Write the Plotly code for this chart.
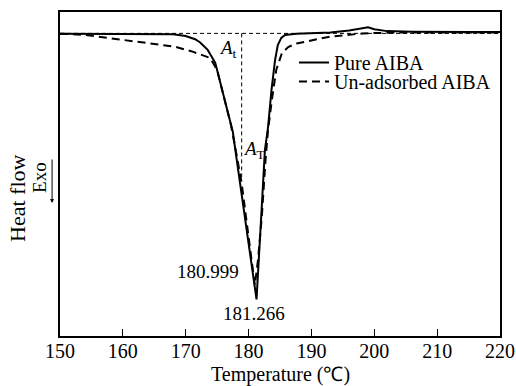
import plotly.graph_objects as go

# Pure AIBA (solid)
pure_T = [150, 155, 160, 165, 168, 170, 171.5, 172.3, 173.5, 174.7, 175.9, 176.7, 177.5, 177.9,
          178.5, 179.5, 180.5, 181.266, 182.0, 182.6, 183.1, 183.65, 184.2, 184.65, 185.2,
          185.8, 187.6, 190, 193, 196, 198, 199, 200, 202, 206, 210, 215, 220]
pure_hf = [93.3, 93.3, 93.3, 93.2, 93.1, 92.6, 91.6, 90.6, 88.3, 84.3, 75.0, 68.8, 63.0, 57.4,
           49.1, 35.8, 22.8, 11.3, 36.4, 57.4, 64.5, 76.0, 85.0, 89.8, 92.0,
           92.9, 93.3, 93.5, 93.7, 94.3, 95.0, 95.3, 94.7, 94.1, 93.9, 93.8, 93.8, 93.8]

# Un-adsorbed AIBA (dashed)
unads_T = [150, 154, 156.8, 161.1, 164.8, 168.3, 171.2, 173.9, 175.0, 176.25, 177.2, 177.95,
           178.9, 180.0, 180.7, 180.999, 181.5, 182.1, 182.7, 183.1, 183.7, 184.4, 185.3,
           186.3, 187.65, 190.25, 192.95, 195.6, 198.2, 204, 220]
unads_hf = [93.3, 92.9, 92.2, 91.1, 90.3, 89.3, 87.7, 85.8, 82.1, 72.8, 65.1, 57.4,
            47.2, 30.6, 19.8, 15.7, 23.5, 36.7, 54.3, 63.6, 72.8, 82.1, 87.3,
            89.2, 90.3, 91.4, 92.4, 92.9, 93.4, 93.7, 93.7]

baseline_hf = 93.4
onset_T = 178.9
onset_hf_end = 49.0
x_ticks = [150, 160, 170, 180, 190, 200, 210, 220]

FONT = "Liberation Serif"

fig = go.Figure()
fig.add_trace(go.Scatter(x=pure_T, y=pure_hf, mode="lines", name="Pure AIBA",
                         line=dict(color="black", width=2), legend="legend"))
fig.add_trace(go.Scatter(x=unads_T, y=unads_hf, mode="lines", name="Un-adsorbed AIBA",
                         line=dict(color="black", width=2, dash="8px,5px"), legend="legend2"))

# reference construction lines
fig.add_shape(type="line", x0=150, x1=220, y0=baseline_hf, y1=baseline_hf,
              line=dict(color="black", width=1, dash="4px,3px"), layer="below")
fig.add_shape(type="line", x0=onset_T, x1=onset_T, y0=baseline_hf, y1=onset_hf_end,
              line=dict(color="black", width=1, dash="4px,3px"), layer="below")

ann_font = dict(family=FONT, size=19, color="black")
fig.add_annotation(x=175.0, y=88.5, text="<i>A</i><sub>t</sub>", showarrow=False,
                   xanchor="left", yanchor="middle", font=ann_font)
fig.add_annotation(x=178.75, y=57.5, text="<i>A</i><sub>T</sub>", showarrow=False,
                   xanchor="left", yanchor="middle", font=ann_font)
fig.add_annotation(x=178.8, y=19.8, text="180.999", showarrow=False,
                   xanchor="right", yanchor="middle", font=ann_font)
fig.add_annotation(x=180.8, y=6.8, text="181.266", showarrow=False,
                   xanchor="center", yanchor="middle", font=ann_font)

# x-axis title
fig.add_annotation(xref="paper", yref="paper", x=0.5, y=(336 - 374) / 324,
                   text="Temperature (℃)", showarrow=False, xanchor="center",
                   yanchor="middle", font=dict(family=FONT, size=20, color="black"))

# y-axis label with Exo arrow
fig.add_annotation(xref="paper", yref="paper", x=-0.0955, y=0.426, text="Heat flow",
                   textangle=-90, showarrow=False, xanchor="center", yanchor="middle",
                   font=dict(family=FONT, size=22, color="black"))
fig.add_annotation(xref="paper", yref="paper", x=-0.0455, y=0.491, text="Exo",
                   textangle=-90, showarrow=False, xanchor="center", yanchor="middle",
                   font=dict(family=FONT, size=19, color="black"))
fig.add_annotation(xref="paper", yref="paper", x=-0.018, y=(336 - 203) / 324, text="",
                   showarrow=True, ax=0, ay=-45, arrowhead=2, arrowsize=0.8,
                   arrowwidth=1, arrowcolor="black")

leg_common = dict(xanchor="left", yanchor="top", bgcolor="rgba(0,0,0,0)",
                  font=dict(family=FONT, size=20, color="black"))
fig.update_layout(
    width=516, height=386,
    margin=dict(l=60, r=16, t=12, b=50),
    paper_bgcolor="white", plot_bgcolor="white",
    font=dict(family=FONT, size=20, color="black"),
    showlegend=True,
    legend=dict(x=(294 - 60) / 440, y=(336 - 43) / 324, **leg_common),
    legend2=dict(x=(294 - 60) / 440, y=(336 - 62) / 324, **leg_common),
    xaxis=dict(range=[150, 220], tickvals=x_ticks, ticks="inside", ticklen=7,
               tickwidth=1, tickcolor="black", showline=True, linecolor="black",
               linewidth=1.5, mirror=True, showgrid=False, zeroline=False,
               automargin=False, ticklabelstandoff=-4, ticklabeloverflow="allow"),
    yaxis=dict(range=[0, 100], showticklabels=False, ticks="", showline=True,
               linecolor="black", linewidth=1.5, mirror=True, showgrid=False,
               zeroline=False, automargin=False),
)

fig.write_html("out.html", config={"displayModeBar": False},
               post_script="document.body.style.margin='0';document.body.style.overflow='hidden';")
